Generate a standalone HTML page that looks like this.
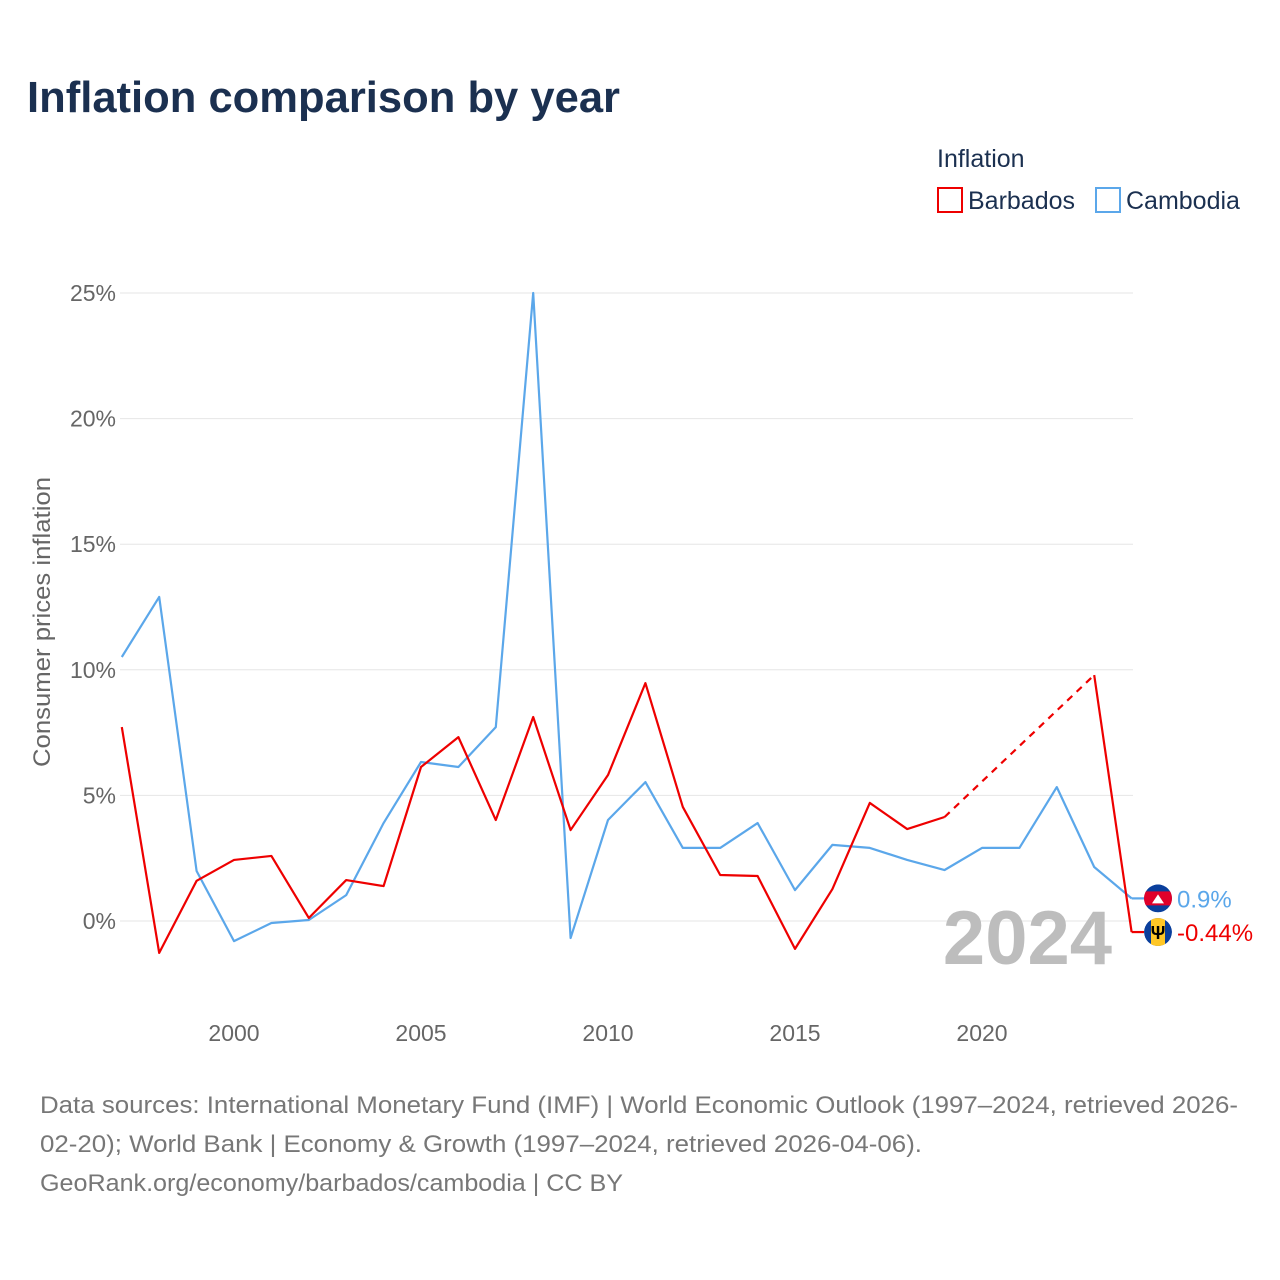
<!DOCTYPE html>
<html><head><meta charset="utf-8">
<style>
body{margin:0;background:#fff;font-family:"Liberation Sans",sans-serif;}
#wrap{position:relative;width:1280px;height:1280px;overflow:hidden;}
</style></head>
<body>
<div id="wrap">
<svg id="chart" width="1280" height="1280" xmlns="http://www.w3.org/2000/svg">
<defs>
<clipPath id="ckh"><circle cx="1158" cy="898.4" r="14"/></clipPath>
<clipPath id="cbb"><circle cx="1158" cy="932" r="14"/></clipPath>
</defs>
<text x="27" y="112" font-size="44" font-weight="bold" fill="#1b3050" textLength="593" lengthAdjust="spacingAndGlyphs">Inflation comparison by year</text>
<text x="937" y="167" font-size="25" fill="#1b3050">Inflation</text>
<g><rect x="938" y="188" width="24" height="24" fill="none" stroke="#ee0000" stroke-width="2"/><text x="968" y="209" font-size="25" fill="#1b3050">Barbados</text></g>
<g><rect x="1096" y="188" width="24" height="24" fill="none" stroke="#5ba7ea" stroke-width="2"/><text x="1126" y="209" font-size="25" fill="#1b3050">Cambodia</text></g>
<text transform="translate(50,622) rotate(-90)" text-anchor="middle" font-size="24" fill="#666" textLength="290" lengthAdjust="spacingAndGlyphs">Consumer prices inflation</text>
<g id="grid"></g><g id="yt"></g><g id="xt"></g>
<text x="1112" y="964" text-anchor="end" font-size="76" font-weight="bold" fill="#bdbdbd">2024</text>
<g id="lines"></g><g id="ends"></g>
<text x="40" y="1113" font-size="24" fill="#777" textLength="1198" lengthAdjust="spacingAndGlyphs">Data sources: International Monetary Fund (IMF) | World Economic Outlook (1997–2024, retrieved 2026-</text>
<text x="40" y="1152" font-size="24" fill="#777" textLength="882" lengthAdjust="spacingAndGlyphs">02-20); World Bank | Economy &amp; Growth (1997–2024, retrieved 2026-04-06).</text>
<text x="40" y="1191" font-size="24" fill="#777" textLength="583" lengthAdjust="spacingAndGlyphs">GeoRank.org/economy/barbados/cambodia | CC BY</text>
</svg>
</div>
<script>
const years=[1997,1998,1999,2000,2001,2002,2003,2004,2005,2006,2007,2008,2009,2010,2011,2012,2013,2014,2015,2016,2017,2018,2019,2020,2021,2022,2023,2024];
const barbados=[7.72,-1.27,1.6,2.43,2.59,0.12,1.63,1.39,6.13,7.32,4.02,8.12,3.62,5.81,9.47,4.54,1.83,1.79,-1.11,1.27,4.7,3.66,4.14,null,null,null,9.79,-0.44];
const cambodia=[10.51,12.9,1.99,-0.8,-0.08,0.04,1.03,3.9,6.33,6.13,7.72,25.0,-0.68,4.02,5.53,2.91,2.91,3.9,1.23,3.03,2.91,2.43,2.03,2.91,2.91,5.33,2.15,0.9];
const yTicks=[0,5,10,15,20,25];
const yTickLabels=["0%","5%","10%","15%","20%","25%"];
const xTicks=[2000,2005,2010,2015,2020];
const NS="http://www.w3.org/2000/svg";
const xS=y=>121.8+(y-1997)*37.4;
const yS=v=>921-v*25.12;
function mk(t,a,p){const e=document.createElementNS(NS,t);for(const k in a)e.setAttribute(k,a[k]);p.appendChild(e);return e;}
const grid=document.getElementById('grid'),yt=document.getElementById('yt'),xt=document.getElementById('xt');
yTicks.forEach((v,i)=>{
 const l=mk('line',{x1:120,x2:1133,y1:yS(v),y2:yS(v),stroke:'#e6e6e6','stroke-width':1},grid);
 
 
 const t=mk('text',{x:116,y:yS(v)+8,'text-anchor':'end','font-size':23,fill:'#666'},yt);
 t.textContent=yTickLabels[i];
 
 
});
xTicks.forEach(v=>{
 const t=mk('text',{x:xS(v),y:1041,'text-anchor':'middle','font-size':23,fill:'#666'},xt);
 t.textContent=v;
 
 
});
const lines=document.getElementById('lines');
function draw(vals,color,name){
 let seg=[],prev=null;const solid=[];
 vals.forEach((v,i)=>{
  if(v===null){ if(seg.length)solid.push(seg); seg=[]; return; }
  if(prev!==null && i-prev>1){
   const d=mk('line',{x1:xS(years[prev]),y1:yS(vals[prev]),x2:xS(years[i]),y2:yS(v),stroke:color,'stroke-width':2.2,'stroke-dasharray':'7,6'},lines);
   
   
  }
  seg.push([xS(years[i]),yS(v)]);prev=i;
 });
 if(seg.length)solid.push(seg);
 solid.forEach(s=>{
  const p=mk('polyline',{points:s.map(q=>q.join(',')).join(' '),fill:'none',stroke:color,'stroke-width':2.2,'stroke-linejoin':'round'},lines);
  
  
 });
}
draw(cambodia,'#5ba7ea','cambodia');
draw(barbados,'#ee0000','barbados');
const ends=document.getElementById('ends');
const cy=yS(cambodia[27]),by=yS(barbados[27]);
document.querySelector('#ckh circle').setAttribute('cy',cy);
document.querySelector('#cbb circle').setAttribute('cy',by);
mk('line',{x1:xS(2024),y1:cy,x2:1144,y2:cy,stroke:'#5ba7ea','stroke-width':2.2},ends);
mk('line',{x1:xS(2024),y1:by,x2:1144,y2:by,stroke:'#ee0000','stroke-width':2.2},ends);
const kh=mk('g',{'clip-path':'url(#ckh)'},ends);


mk('circle',{cx:1158,cy:cy,r:14,fill:'#0a3f9c'},kh);
mk('rect',{x:1144,y:cy-7,width:28,height:14,fill:'#e0002a'},kh);
mk('path',{d:`M1152 ${cy+5} L1158 ${cy-4} L1164 ${cy+5} Z`,fill:'#fff'},kh);
const bb=mk('g',{'clip-path':'url(#cbb)'},ends);


mk('circle',{cx:1158,cy:by,r:14,fill:'#0a3f9c'},bb);
mk('rect',{x:1151,y:by-14,width:14,height:28,fill:'#ffc726'},bb);
const tr=mk('text',{x:1158,y:by+7,'text-anchor':'middle','font-size':18,'font-weight':'bold',fill:'#000'},bb);tr.textContent='Ψ';
const cl=mk('text',{x:1177,y:cy+9,'font-size':24,fill:'#5ba7ea'},ends);
cl.textContent=cambodia[27]+'%';


const bl=mk('text',{x:1177,y:by+9,'font-size':24,fill:'#ee0000'},ends);
bl.textContent=barbados[27]+'%';


</script>
</body></html>
